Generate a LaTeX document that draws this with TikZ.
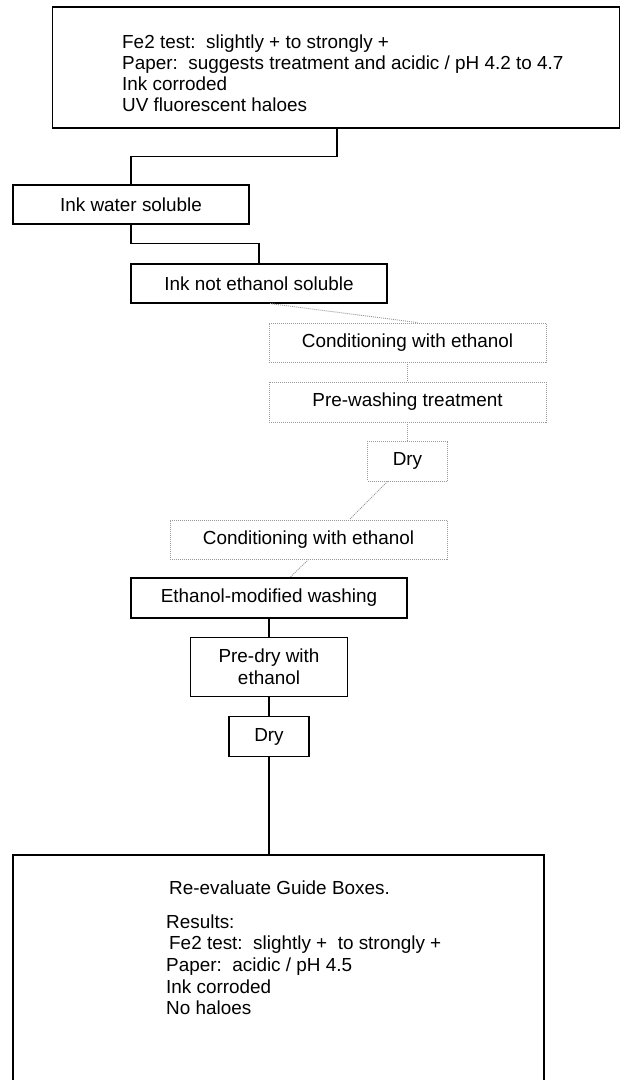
\documentclass[tikz,border=0pt]{standalone}
\usepackage{fontspec}
\setmainfont{Liberation Sans}
\begin{document}
\begin{tikzpicture}[x=1pt,y=-1pt,
  box/.style={draw=black, line width=1.2pt, inner sep=0pt, align=center, font=\fontsize{18.9}{22}\selectfont},
  dbox/.style={draw=gray!80, line width=0.9pt, dash pattern=on 1pt off 1pt, inner sep=0pt, align=center, font=\fontsize{18.9}{22}\selectfont},
  txt/.style={inner sep=0pt, anchor=base west, font=\fontsize{18.9}{21}\selectfont},
  link/.style={draw=black, line width=1.2pt},
  dlink/.style={draw=gray!80, line width=0.9pt, dash pattern=on 1pt off 1pt}]
\useasboundingbox (0,0) rectangle (621,1080);
\fill[white] (0,0) rectangle (621,1080);
\clip (0,0) rectangle (621,1080);

% top box
\node[box, minimum width=567pt, minimum height=121pt] (top) at (336,67.5) {};
\node[txt] (t1) at (122,48) {Fe2 test:\ \ slightly + to strongly +};
\node[txt] (t2) at (122,69) {Paper:\ \ suggests treatment and acidic / pH 4.2 to 4.7};
\node[txt] (t3) at (122,90) {Ink corroded};
\node[txt] (t4) at (122,111) {UV fluorescent haloes};

% chain
\node[box, minimum width=236pt, minimum height=39pt] (inkwater) at (131,204.5) {Ink water soluble};
\node[box, minimum width=256pt, minimum height=39pt] (inknot) at (259,283.5) {Ink not ethanol soluble};
\node[dbox, minimum width=277pt, minimum height=39pt] (cond1) at (407.5,342.5) {Conditioning with ethanol};
\node[dbox, minimum width=277pt, minimum height=40pt] (prewash) at (407.5,402) {Pre-washing treatment};
\node[dbox, minimum width=80pt, minimum height=40pt] (dry1) at (407.5,461) {Dry};
\node[dbox, minimum width=277pt, minimum height=39pt] (cond2) at (308.5,539.5) {Conditioning with ethanol};
\node[box, minimum width=276pt, minimum height=40pt] (ethmod) at (269,598) {Ethanol-modified washing};
\node[box, minimum width=157pt, minimum height=59pt] (predry) at (269,667) {Pre-dry with\\ethanol};
\node[box, minimum width=80pt, minimum height=40pt] (dry2) at (269,736.5) {Dry};

% bottom box
\node[box, minimum width=531pt, minimum height=240pt] (bottom) at (278.5,975) {};
\node[txt] (b1) at (169,894) {Re-evaluate Guide Boxes.};
\node[txt] (b2) at (166,928) {Results:};
\node[txt] (b3) at (169,949.5) {Fe2 test:\ \ slightly +\ \ to strongly +};
\node[txt] (b4) at (166,971) {Paper:\ \ acidic / pH 4.5};
\node[txt] (b5) at (166,993) {Ink corroded};
\node[txt] (b6) at (166,1014) {No haloes};

% connectors
\draw[link] ([xshift=1pt]top.south) -- ++(0,28) -| (inkwater.north);
\draw[link] (inkwater.south) -- ++(0,19) -| (inknot.north);
\draw[dlink] ([xshift=11pt]inknot.south) -- ([xshift=10pt]cond1.north);
\draw[dlink] (cond1.south) -- (prewash.north);
\draw[dlink] (prewash.south) -- (dry1.north);
\draw[dlink] ([xshift=-20pt]dry1.south) -- ([xshift=41pt]cond2.north);
\draw[dlink] (cond2.south) -- ([xshift=21pt]ethmod.north);
\draw[link] (ethmod.south) -- (predry.north);
\draw[link] (predry.south) -- (dry2.north);
\draw[link] (dry2.south) -- (dry2.south |- bottom.north);
\end{tikzpicture}
\end{document}
